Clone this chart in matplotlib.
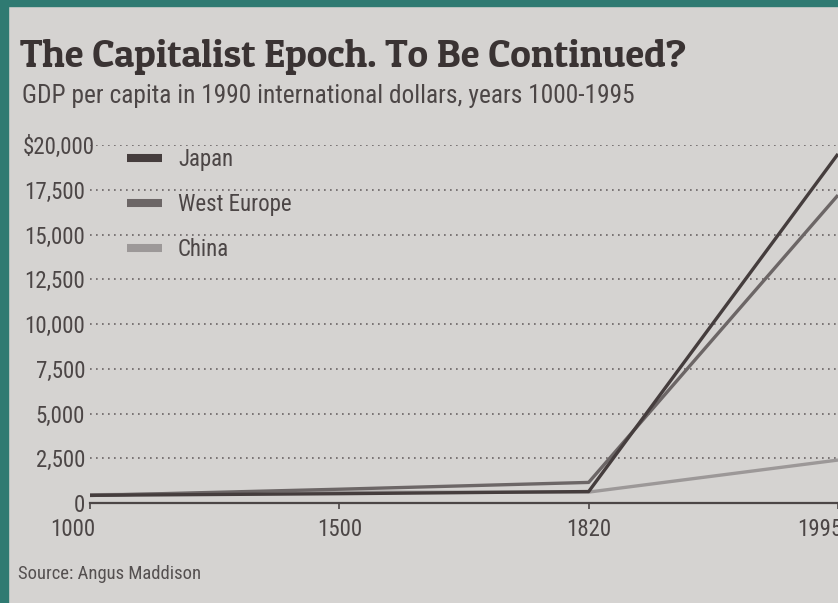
import matplotlib
matplotlib.use('Agg')
import matplotlib.pyplot as plt
from matplotlib import font_manager
from matplotlib.lines import Line2D
from matplotlib.patches import Rectangle
from matplotlib.transforms import ScaledTranslation
import numpy as np

# values (1990 international dollars)
years = [1000, 1500, 1820, 1995]
japan = [430, 520, 640, 19500]
west_europe = [420, 770, 1150, 17200]
china = [460, 600, 610, 2400]

y_ticks = [0, 2500, 5000, 7500, 10000, 12500, 15000, 17500, 20000]
y_labels = ['0', '2,500', '5,000', '7,500', '10,000', '12,500', '15,000', '17,500', '$20,000']

title = 'The Capitalist Epoch. To Be Continued?'
subtitle = 'GDP per capita in 1990 international dollars, years 1000-1995'
source = 'Source: Angus Maddison'

installed = {f.name for f in font_manager.fontManager.ttflist}


def pick(candidates, fallback):
    for c in candidates:
        if c in installed:
            return c
    return fallback


sans = pick(['Roboto Condensed', 'Liberation Sans Narrow', 'Archivo Narrow'], 'Liberation Sans')
serif = pick(['Patua One', 'Zilla Slab', 'Roboto Slab'], 'DejaVu Serif')

paper = '#d5d3d1'
teal = '#2f7a72'
ink = '#4c4646'
W, H = 838, 603

fig = plt.figure(figsize=(W / 100, H / 100), dpi=100, facecolor=paper)

# teal border of the photo (left and top)
fig.patches.append(Rectangle((0, 0), 8 / W, 1, transform=fig.transFigure, color=teal, zorder=0))
fig.patches.append(Rectangle((0, 1 - 6 / H), 1, 6 / H, transform=fig.transFigure, color=teal, zorder=0))

ax = fig.add_axes([90 / W, (H - 503) / H, (W - 90) / W, (503 - 145) / H])
ax.set_facecolor('none')

x = np.arange(len(years))
ax.plot(x, china, color='#9c9898', lw=2.4, solid_capstyle='butt', zorder=3)
ax.plot(x, west_europe, color='#6c6666', lw=2.4, solid_capstyle='butt', zorder=4)
ax.plot(x, japan, color='#453d3d', lw=2.4, solid_capstyle='butt', zorder=5)

ax.set_xlim(0, (W - 90) / 250)
ax.set_ylim(0, 20000)

ax.set_yticks(y_ticks)
ax.set_yticklabels(y_labels)
ax.set_xticks(x)
ax.set_xticklabels([str(y) for y in years])

for s in ['left', 'right', 'top']:
    ax.spines[s].set_visible(False)
ax.spines['bottom'].set_color(ink)
ax.spines['bottom'].set_linewidth(1.6)

ax.tick_params(axis='y', length=0, pad=3.6, labelsize=16.5, labelcolor=ink)
ax.tick_params(axis='x', length=4.5, width=1.2, color=ink, direction='out', pad=6,
               labelsize=16.5, labelcolor=ink)
for lab in ax.get_xticklabels() + ax.get_yticklabels():
    lab.set_family(sans)

ax.grid(axis='y', color='#6a6464', linestyle=(0, (1, 2.6)), linewidth=1.2)
ax.set_axisbelow(True)

# end x labels are nudged inwards, top y label a bit to the right
xl = ax.get_xticklabels()[0]
xl.set_transform(xl.get_transform() + ScaledTranslation(-17 / 100, 0, fig.dpi_scale_trans))
xr = ax.get_xticklabels()[-1]
xr.set_transform(xr.get_transform() + ScaledTranslation(-18 / 100, 0, fig.dpi_scale_trans))
yl = ax.get_yticklabels()[-1]
yl.set_transform(yl.get_transform() + ScaledTranslation(10 / 100, 0, fig.dpi_scale_trans))

handles = [Line2D([], [], color='#453d3d', lw=5.8, solid_capstyle='butt'),
           Line2D([], [], color='#6c6666', lw=5.8, solid_capstyle='butt'),
           Line2D([], [], color='#9c9898', lw=5.8, solid_capstyle='butt')]
leg = ax.legend(handles, ['Japan', 'West Europe', 'China'], loc='upper left',
                bbox_to_anchor=(127 / W, (H - 148) / H), bbox_transform=fig.transFigure,
                frameon=False, borderpad=0, borderaxespad=0, handlelength=1.52,
                handletextpad=0.7, labelspacing=0.95,
                prop={'family': sans, 'size': 16.5})
for t in leg.get_texts():
    t.set_color(ink)

t1 = fig.text(20 / W, (H - 67) / H, title, family=serif, weight='bold', fontsize=30,
              color='#3a3333', va='baseline')
t2 = fig.text(22 / W, (H - 103) / H, subtitle, family=sans, fontsize=20, color=ink, va='baseline')
t3 = fig.text(18 / W, (H - 579) / H, source, family=sans, fontsize=15, color='#555050', va='baseline')

# scale the headings so their widths match the printed ones
fig.canvas.draw()
r = fig.canvas.get_renderer()
for t, target in [(t1, 665), (t2, 612), (t3, 184)]:
    w = t.get_window_extent(r).width
    t.set_fontsize(t.get_fontsize() * target / w)

fig.savefig('out.png', dpi=100, facecolor=paper)
